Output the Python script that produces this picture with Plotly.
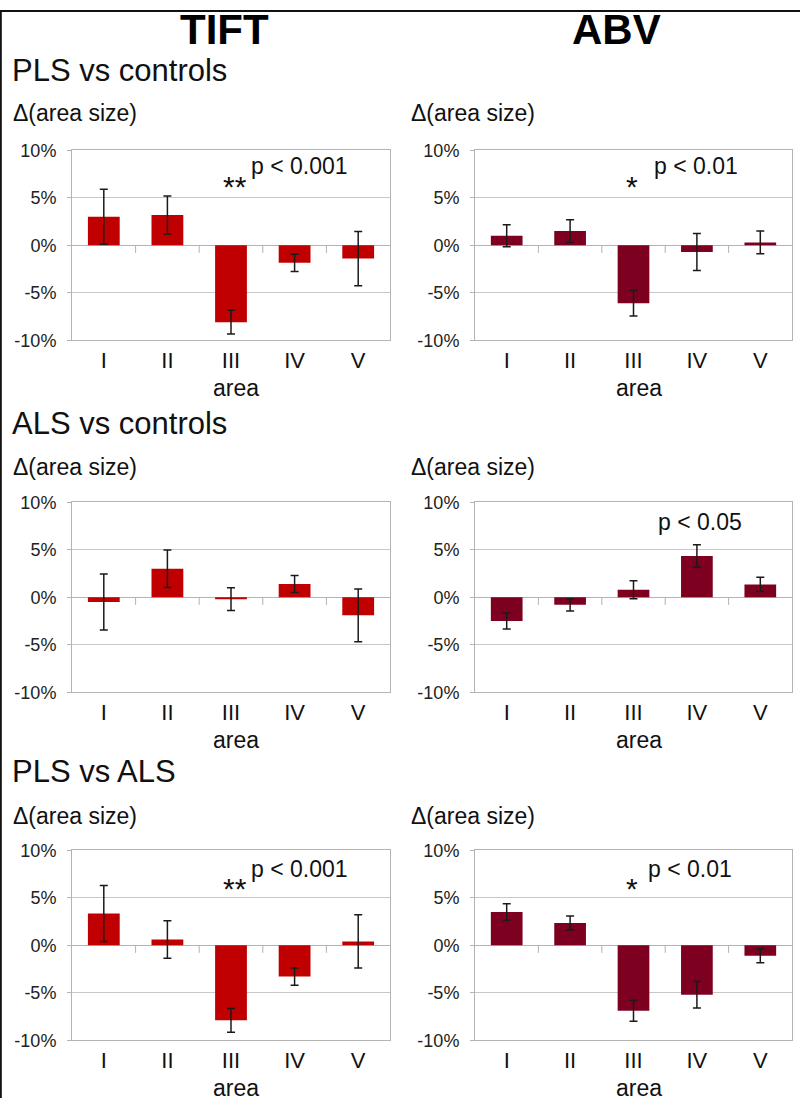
import plotly.graph_objects as go

W, H = 800, 1108

categories = ["I", "II", "III", "IV", "V"]
y_tickvals = [-10, -5, 0, 5, 10]
y_ticktext = ["-10%", "-5%", "0%", "5%", "10%"]

column_titles = ["TIFT", "ABV"]
row_titles = ["PLS vs controls", "ALS vs controls", "PLS vs ALS"]

tift_pls_ctrl = [3.0, 3.2, -8.1, -1.85, -1.4]
tift_pls_ctrl_err = [2.9, 2.0, 1.25, 0.9, 2.85]
abv_pls_ctrl = [1.0, 1.5, -6.1, -0.7, 0.3]
abv_pls_ctrl_err = [1.15, 1.2, 1.35, 1.95, 1.2]

tift_als_ctrl = [-0.5, 3.0, -0.2, 1.4, -1.9]
tift_als_ctrl_err = [2.95, 1.97, 1.2, 0.9, 2.77]
abv_als_ctrl = [-2.5, -0.8, 0.8, 4.35, 1.35]
abv_als_ctrl_err = [0.85, 0.65, 0.95, 1.17, 0.75]

tift_pls_als = [3.35, 0.6, -7.9, -3.3, 0.4]
tift_pls_als_err = [2.95, 1.98, 1.25, 0.91, 2.8]
abv_pls_als = [3.5, 2.35, -6.9, -5.2, -1.1]
abv_pls_als_err = [0.88, 0.74, 1.1, 1.4, 0.74]

# significance annotations: (panel row, col, star text, star x, star y, p text, p x, p y)
significance = [
    (0, 0, "**", 2.06, 6.2, "p < 0.001", 2.28, 8.3),
    (0, 1, "*", 1.98, 6.2, "p < 0.01", 2.29, 8.3),
    (1, 1, "", None, None, "p < 0.05", 2.35, 7.95),
    (2, 0, "**", 2.06, 6.0, "p < 0.001", 2.28, 8.0),
    (2, 1, "*", 1.98, 6.0, "p < 0.01", 2.2, 8.0),
]

panels = [
    [(tift_pls_ctrl, tift_pls_ctrl_err), (abv_pls_ctrl, abv_pls_ctrl_err)],
    [(tift_als_ctrl, tift_als_ctrl_err), (abv_als_ctrl, abv_als_ctrl_err)],
    [(tift_pls_als, tift_pls_als_err), (abv_pls_als, abv_pls_als_err)],
]
col_colors = ["#c00000", "#7e0021"]

FONT = "Liberation Sans, Arial, sans-serif"

# layout geometry (pixels, as seen in the reference)
col_x = [(72, 390), (475, 792)]
row_y = [(150, 340), (502, 692), (850, 1040)]
row_title_y = [70, 423, 771]
delta_y = [113, 467, 816]
area_y = [388, 740, 1088]
col_label_x = [11, 409]
head_y = 29

# the captured picture shows the page slightly offset/compressed vertically
OFF, SCALE = 9.7, 0.982


def px(x):
    return x / W


def py(y):
    yi = (y - OFF) / SCALE
    return 1 - yi / H


fig = go.Figure()
annotations = []
shapes = []

for r in range(3):
    for c in range(2):
        idx = r * 2 + c + 1
        xa = "x" if idx == 1 else f"x{idx}"
        ya = "y" if idx == 1 else f"y{idx}"
        vals, errs = panels[r][c]
        fig.add_trace(go.Bar(
            x=list(range(len(categories))), y=vals,
            width=0.5,
            marker=dict(color=col_colors[c], line=dict(width=0)),
            error_y=dict(type="data", array=errs, visible=True,
                         color="#1a1a1a", thickness=1.5, width=4),
            xaxis=xa, yaxis=ya, showlegend=False, hoverinfo="skip",
        ))
        # small category separator ticks below zero line
        bx, by = [], []
        for i in range(len(categories) - 1):
            bx += [i + 0.5, i + 0.5, None]
            by += [0, -0.8, None]
        fig.add_trace(go.Scatter(
            x=bx, y=by, mode="lines", line=dict(color="#b3b3b3", width=1),
            xaxis=xa, yaxis=ya, showlegend=False, hoverinfo="skip",
        ))
        x0, x1 = col_x[c]
        y0, y1 = row_y[r]
        xkey = "xaxis" if idx == 1 else f"xaxis{idx}"
        ykey = "yaxis" if idx == 1 else f"yaxis{idx}"
        fig.layout[xkey] = dict(
            domain=[px(x0), px(x1)], anchor=ya,
            range=[-0.5, 4.5],
            tickmode="array", tickvals=list(range(len(categories))), ticktext=categories,
            tickfont=dict(family=FONT, size=22, color="#111"),
            showgrid=False, zeroline=False,
            showline=True, mirror=True, linecolor="#b3b3b3", linewidth=1,
            ticks="", ticklabelstandoff=0, fixedrange=True,
        )
        fig.layout[ykey] = dict(
            domain=[py(y1), py(y0)], anchor=xa,
            range=[-10, 10],
            tickmode="array", tickvals=y_tickvals, ticktext=y_ticktext,
            tickfont=dict(family=FONT, size=18, color="#222"),
            showgrid=True, gridcolor="#c8c8c8", gridwidth=1,
            zeroline=True, zerolinecolor="#b3b3b3", zerolinewidth=1,
            showline=True, mirror=True, linecolor="#b3b3b3", linewidth=1,
            ticks="outside", ticklen=4, tickcolor="#b3b3b3",
            ticklabelstandoff=7, fixedrange=True,
        )
        # Δ label
        annotations.append(dict(
            text="Δ(area size)", xref="paper", yref="paper",
            x=px(col_label_x[c]), y=py(delta_y[r]), xanchor="left", yanchor="middle",
            showarrow=False, font=dict(family=FONT, size=23, color="#111"),
        ))
        # area label
        annotations.append(dict(
            text="area", xref="paper", yref="paper",
            x=px((x0 + x1) / 2 + 5), y=py(area_y[r]), xanchor="center", yanchor="middle",
            showarrow=False, font=dict(family=FONT, size=23, color="#111"),
        ))

for r, c, star, sx, sy, ptxt, pxv, pyv in significance:
    idx = r * 2 + c + 1
    xa = "x" if idx == 1 else f"x{idx}"
    ya = "y" if idx == 1 else f"y{idx}"
    if star:
        annotations.append(dict(
            text=star, xref=xa, yref=ya, x=sx, y=sy,
            xanchor="center", yanchor="middle", showarrow=False,
            font=dict(family=FONT, size=30, color="#111"),
        ))
    annotations.append(dict(
        text=ptxt, xref=xa, yref=ya, x=pxv, y=pyv,
        xanchor="left", yanchor="middle", showarrow=False,
        font=dict(family=FONT, size=23, color="#111"),
    ))

# column headings
for c, t in enumerate(column_titles):
    cx = [224, 616][c]
    annotations.append(dict(
        text=f"<b>{t}</b>", xref="paper", yref="paper",
        x=px(cx), y=py(head_y), xanchor="center", yanchor="middle",
        showarrow=False, font=dict(family=FONT, size=42, color="#000"),
    ))

# row titles
for r, t in enumerate(row_titles):
    annotations.append(dict(
        text=t, xref="paper", yref="paper",
        x=px(10), y=py(row_title_y[r]), xanchor="left", yanchor="middle",
        showarrow=False, font=dict(family=FONT, size=31, color="#111"),
    ))

# outer border (left and top)
shapes.append(dict(type="line", xref="paper", yref="paper", x0=0.001, x1=0.001, y0=0, y1=1,
                   line=dict(color="#111", width=2)))
shapes.append(dict(type="line", xref="paper", yref="paper", x0=0, x1=1, y0=0.999, y1=0.999,
                   line=dict(color="#111", width=2)))

fig.update_layout(
    width=W, height=H,
    margin=dict(l=0, r=0, t=0, b=0),
    paper_bgcolor="white", plot_bgcolor="white",
    annotations=annotations, shapes=shapes,
    bargap=0.5,
)

post = (
    "document.documentElement.style.margin='0';"
    "document.documentElement.style.overflow='hidden';"
    "document.body.style.margin='0';"
    "document.body.style.overflow='hidden';"
    "var gd=document.getElementById('{plot_id}');"
    "gd.style.position='absolute';gd.style.top='0px';gd.style.left='0px';"
)

fig.write_html("out.html", config={"displayModeBar": False}, post_script=post)
